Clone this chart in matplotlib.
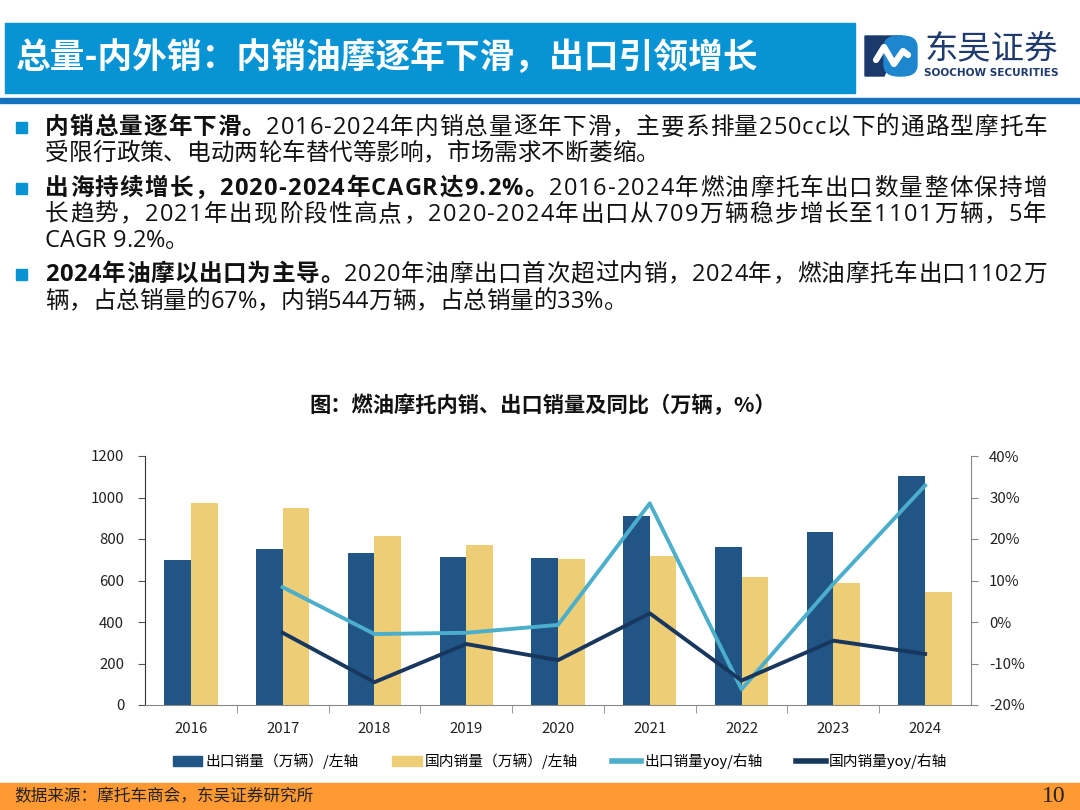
import matplotlib
matplotlib.use("Agg")
import matplotlib.pyplot as plt
import matplotlib.patches as mpatches
from matplotlib.lines import Line2D
from matplotlib.font_manager import FontProperties
import numpy as np

plt.rcParams['font.family'] = ['Noto Sans CJK SC', 'DejaVu Sans']
BODY_FONT = ['Open Sans', 'Noto Sans CJK SC', 'DejaVu Sans']

# chart data (万辆, %)
years = ['2016', '2017', '2018', '2019', '2020', '2021', '2022', '2023', '2024']
export_vol = [697, 754, 731, 713, 709, 911, 763, 832, 1102]
domestic_vol = [975, 951, 813, 770, 703, 718, 618, 590, 544]
export_yoy = [None, 8.4, -2.9, -2.6, -0.7, 28.6, -16.2, 9.2, 32.9]
domestic_yoy = [None, -2.6, -14.5, -5.3, -9.2, 2.1, -14.1, -4.5, -7.7]

left_ticks = [0, 200, 400, 600, 800, 1000, 1200]
right_ticks = [-20, -10, 0, 10, 20, 30, 40]

legend_labels = ['出口销量（万辆）/左轴', '国内销量（万辆）/左轴', '出口销量yoy/右轴', '国内销量yoy/右轴']

page_title = '总量-内外销：内销油摩逐年下滑，出口引领增长'
chart_title = '图：燃油摩托内销、出口销量及同比（万辆，%）'
source_text = '数据来源：摩托车商会，东吴证券研究所'
page_no = '10'

# bullet lines: (bold part, normal part, starts a new bullet)
bullet_lines = [
    ('内销总量逐年下滑。', '2016-2024年内销总量逐年下滑，主要系排量250cc以下的通路型摩托车', True),
    ('', '受限行政策、电动两轮车替代等影响，市场需求不断萎缩。', False),
    ('出海持续增长，2020-2024年CAGR达9.2%。', '2016-2024年燃油摩托车出口数量整体保持增', True),
    ('', '长趋势，2021年出现阶段性高点，2020-2024年出口从709万辆稳步增长至1101万辆，5年', False),
    ('', 'CAGR 9.2%。', False),
    ('2024年油摩以出口为主导。', '2020年油摩出口首次超过内销，2024年，燃油摩托车出口1102万', True),
    ('', '辆，占总销量的67%，内销544万辆，占总销量的33%。', False),
]
line_y = [128, 154, 189, 215, 241, 275, 302]

W, H = 1080, 810
def fx(x):
    return x / W
def fy(y):
    return 1 - y / H

fig = plt.figure(figsize=(10.8, 8.1), dpi=100)
renderer = fig.canvas.get_renderer()

# header
fig.patches.append(mpatches.Rectangle((fx(5), fy(93)), fx(850), 70 / H, transform=fig.transFigure,
                                      color='#0894D4', zorder=0))
fig.patches.append(mpatches.Rectangle((0, fy(103)), 1, 5 / H, transform=fig.transFigure,
                                      color='#1570C0', zorder=0))
fig.text(fx(16), fy(58), page_title, color='white', fontsize=25, fontweight='bold',
         va='center', ha='left')

# logo: navy block with a white S band and a blue rounded part
fig.patches.append(mpatches.Polygon([[fx(865), fy(36)], [fx(902), fy(36)], [fx(884), fy(76)], [fx(865), fy(76)]],
                                    closed=True, transform=fig.transFigure, color='#1B3A6B'))
fig.patches.append(mpatches.FancyBboxPatch((fx(884), fy(76)), 33 / W, 40 / H, boxstyle='round,pad=0,rounding_size=0.014',
                                           transform=fig.transFigure, color='#1D86CF'))
fig.lines.append(Line2D([fx(876), fx(884), fx(894), fx(903), fx(908)], [fy(60), fy(47), fy(64), fy(51), fy(55)],
                        transform=fig.transFigure, color='white', lw=4.5, solid_capstyle='round',
                        solid_joinstyle='round'))
fig.text(fx(991), fy(49), '东吴证券', color='#1F3A6E', fontsize=24, ha='center', va='center')
fig.text(fx(991), fy(73), 'SOOCHOW SECURITIES', color='#1F3A6E', fontsize=7.6, fontweight='bold',
         ha='center', va='center', family='DejaVu Sans')


# bullets, justified like the slide: full lines are stretched to the right margin
FS = 17
def text_w(s, weight):
    # advance width in pixels, measured with a sentinel so trailing punctuation counts
    prop = FontProperties(family=BODY_FONT, size=FS, weight=weight)
    w1, _, _ = renderer.get_text_width_height_descent(s + '|', prop, ismath=False)
    w0, _, _ = renderer.get_text_width_height_descent('|', prop, ismath=False)
    return w1 - w0

right_edge = 1047
for i, ((bold, normal, new), y) in enumerate(zip(bullet_lines, line_y)):
    if new:
        fig.patches.append(mpatches.Rectangle((fx(16), fy(y + 5)), 11 / W, 11 / H,
                                              transform=fig.transFigure, color='#0894D4'))
    chars = [(c, 'bold') for c in bold] + [(c, 'normal') for c in normal]
    # starting positions of each char without extra spacing
    starts = []
    for k in range(len(chars)):
        b = ''.join(c for c, w in chars[:k] if w == 'bold')
        n = ''.join(c for c, w in chars[:k] if w == 'normal')
        starts.append(text_w(b, 'bold') + text_w(n, 'normal'))
    total = text_w(bold, 'bold') + text_w(normal, 'normal')
    justify = i + 1 < len(bullet_lines) and not bullet_lines[i + 1][2]
    gap = (right_edge - 45 - total) / (len(chars) - 1) if justify else 0
    for k, (c, w) in enumerate(chars):
        px = 45 + starts[k] + k * gap
        fig.text(fx(px), fy(y), c, fontsize=FS, fontweight=w, va='center', ha='left',
                 color='#111111', family=BODY_FONT)

# chart title
fig.text(fx(543), fy(405), chart_title, fontsize=15.3, fontweight='bold', ha='center', va='center', color='#111111')

# chart
ax = fig.add_axes([fx(145), fy(705), (971 - 145) / W, (705 - 456) / H])
x = np.arange(len(years))
bw = 0.29
ax.bar(x - bw / 2, export_vol, bw, color='#215585', label=legend_labels[0], zorder=2)
ax.bar(x + bw / 2, domestic_vol, bw, color='#EDCD76', label=legend_labels[1], zorder=2)
ax.set_xlim(-0.5, len(years) - 0.5)
ax.set_ylim(0, 1200)
ax.set_yticks(left_ticks)
ax.set_xticks(x)
ax.set_xticklabels(years)
ax.set_xticks(np.arange(0.5, len(years) - 1, 1), minor=True)
ax.tick_params(axis='x', which='major', length=0, pad=12, labelsize=10.8, labelcolor='#222222')
ax.tick_params(axis='x', which='minor', length=6, color='#888888', direction='out')
ax.tick_params(axis='y', length=5, color='#555555', labelsize=10.8, labelcolor='#222222', pad=10)
ax.spines['top'].set_visible(False)
ax.spines['right'].set_visible(False)
ax.spines['left'].set_color('#333333')
ax.spines['bottom'].set_color('#888888')

ax2 = ax.twinx()
ey = np.array([np.nan if v is None else v for v in export_yoy])
dy = np.array([np.nan if v is None else v for v in domestic_yoy])
ax2.plot(x, ey, color='#4BAFCB', lw=2.8, label=legend_labels[2], zorder=3)
ax2.plot(x, dy, color='#17375E', lw=2.8, label=legend_labels[3], zorder=3)
ax2.set_ylim(-20, 40)
ax2.set_yticks(right_ticks)
ax2.set_yticklabels([f'{v}%' for v in right_ticks])
ax2.tick_params(axis='y', length=5, color='#888888', labelsize=10.8, labelcolor='#222222', pad=8)
for s in ['top', 'left', 'bottom']:
    ax2.spines[s].set_visible(False)
ax2.spines['right'].set_color('#888888')

handles = [mpatches.Patch(color='#215585'), mpatches.Patch(color='#EDCD76'),
           Line2D([], [], color='#4BAFCB', lw=4), Line2D([], [], color='#17375E', lw=4)]
fig.legend(handles, legend_labels, loc='center', bbox_to_anchor=(fx(560), fy(761)), ncol=4,
           frameon=False, fontsize=10.6, handlelength=2.0, handletextpad=0.2, columnspacing=2.3)

# footer
fig.patches.append(mpatches.Rectangle((0, 0), 1, 27 / H, transform=fig.transFigure, color='#FF9A33', zorder=0))
fig.text(fx(14), fy(797), source_text, fontsize=12, va='center', ha='left', color='#222222')
fig.text(fx(1066), fy(797), page_no, fontsize=17, va='center', ha='right', family='Liberation Serif', color='#222222')

fig.savefig('out.png', dpi=100)
